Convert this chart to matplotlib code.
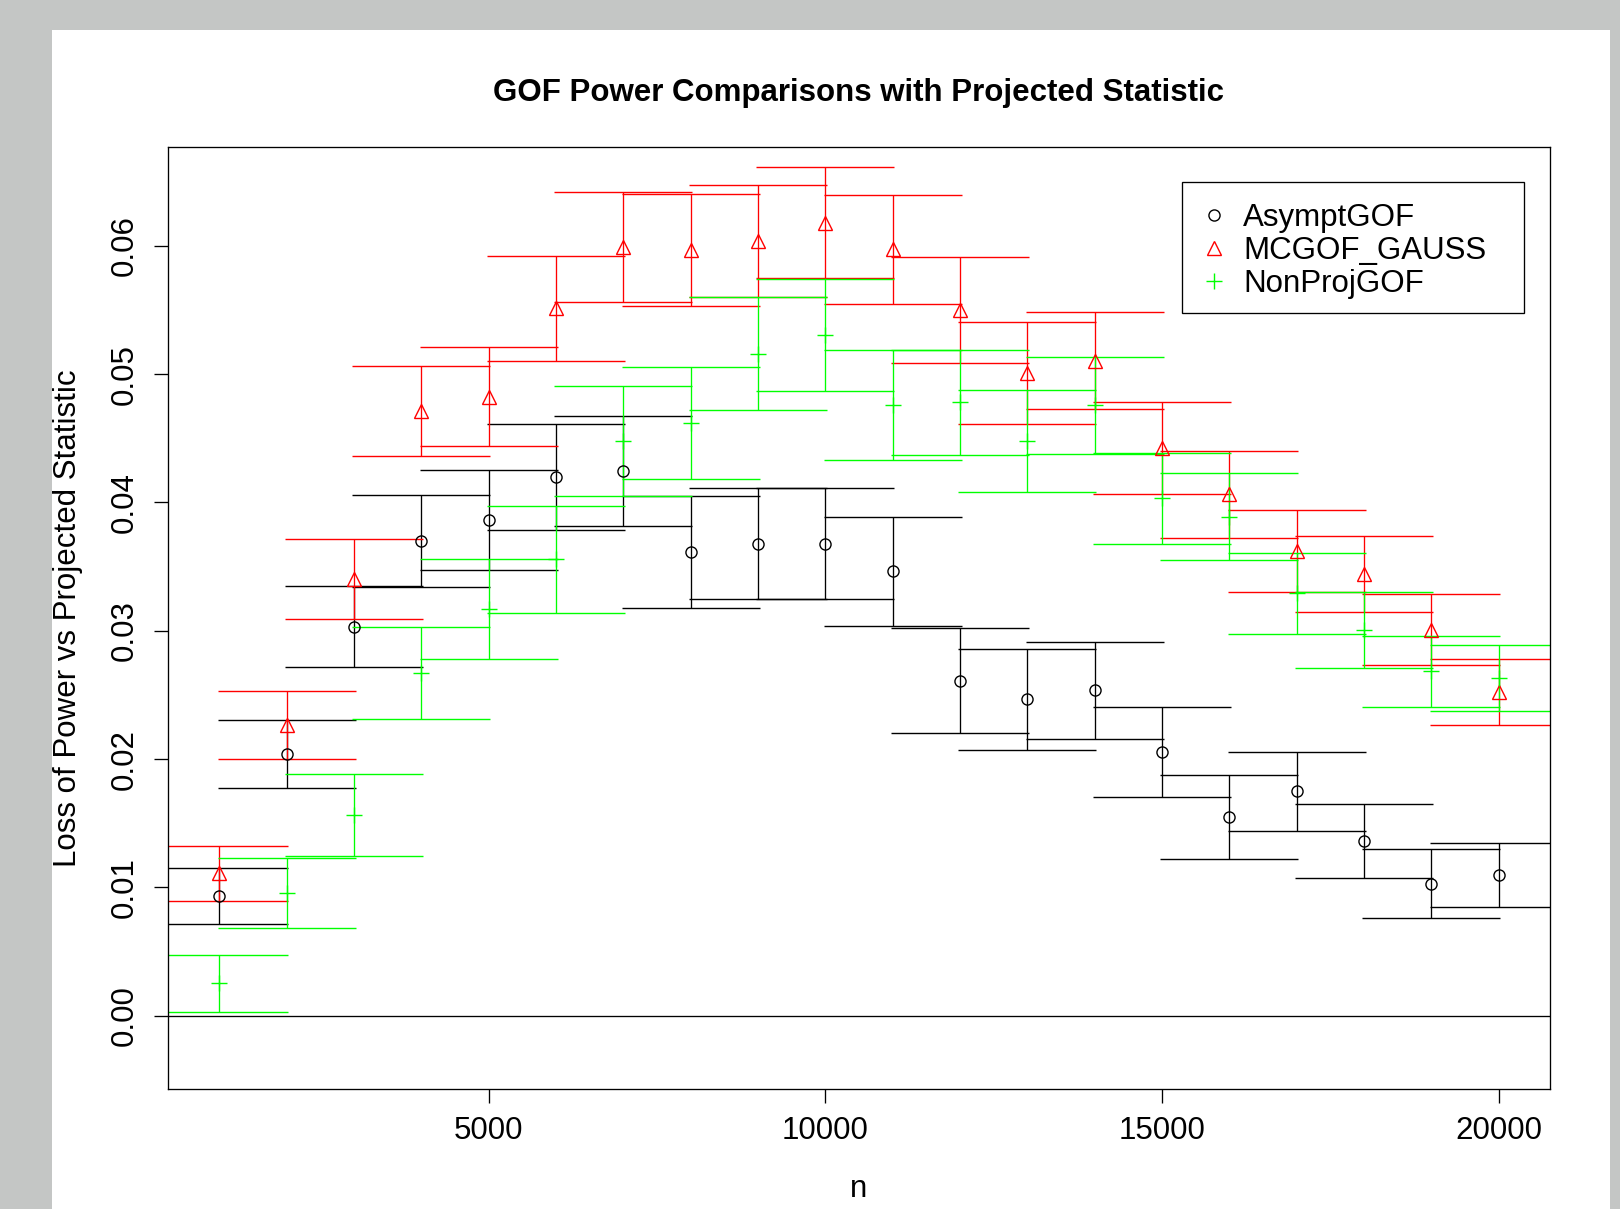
import matplotlib
matplotlib.use("Agg")
import matplotlib.pyplot as plt
from matplotlib.lines import Line2D
from matplotlib.patches import Rectangle

plt.rcParams['font.family'] = ['Liberation Sans', 'DejaVu Sans']

n = [1000, 2000, 3000, 4000, 5000, 6000, 7000, 8000, 9000, 10000,
     11000, 12000, 13000, 14000, 15000, 16000, 17000, 18000, 19000, 20000]

asympt = [0.00930, 0.02038, 0.03033, 0.03700, 0.03866, 0.04199, 0.04246, 0.03616, 0.03680, 0.03678,
          0.03463, 0.02610, 0.02465, 0.02535, 0.02058, 0.01548, 0.01750, 0.01364, 0.01030, 0.01094]
asympt_err = [0.00219, 0.00267, 0.00314, 0.00356, 0.00390, 0.00413, 0.00428, 0.00438, 0.00436, 0.00433,
              0.00423, 0.00408, 0.00392, 0.00375, 0.00351, 0.00329, 0.00309, 0.00288, 0.00267, 0.00250]

mcgof = [0.01110, 0.02267, 0.03403, 0.04714, 0.04825, 0.05512, 0.05992, 0.05970, 0.06037, 0.06182,
         0.05973, 0.05504, 0.05007, 0.05105, 0.04425, 0.04064, 0.03623, 0.03445, 0.03010, 0.02522]
mcgof_err = [0.00216, 0.00267, 0.00313, 0.00352, 0.00387, 0.00412, 0.00427, 0.00436, 0.00438, 0.00436,
             0.00425, 0.00413, 0.00397, 0.00379, 0.00359, 0.00338, 0.00319, 0.00296, 0.00277, 0.00256]

nonproj = [0.00251, 0.00954, 0.01564, 0.02672, 0.03170, 0.03557, 0.04479, 0.04620, 0.05160, 0.05306,
           0.04760, 0.04780, 0.04480, 0.04758, 0.04032, 0.03888, 0.03291, 0.03006, 0.02685, 0.02632]
nonproj_err = [0.00222, 0.00273, 0.00320, 0.00359, 0.00390, 0.00416, 0.00428, 0.00437, 0.00439, 0.00436,
               0.00427, 0.00411, 0.00398, 0.00378, 0.00356, 0.00340, 0.00318, 0.00296, 0.00277, 0.00255]

labels = ['AsymptGOF', 'MCGOF_GAUSS', 'NonProjGOF']
yticks = [0.00, 0.01, 0.02, 0.03, 0.04, 0.05, 0.06]
xticks = [5000, 10000, 15000, 20000]

FS = 22.5
W, H = 1620, 1209

fig = plt.figure(figsize=(16.2, 12.09), dpi=100, facecolor='#c4c6c5')
# white page area
fig.patches.append(Rectangle((52 / W, 0), (1610 - 52) / W, (H - 30) / H,
                             transform=fig.transFigure, facecolor='white',
                             edgecolor='none', zorder=-10))

ax = fig.add_axes([168 / W, 1 - 1089.3 / H, (1549.7 - 168) / W, (1089.3 - 146.7) / H])
ax.set_facecolor('white')

series = [
    (asympt, asympt_err, 'black', 'o', 8, 'none'),
    (mcgof, mcgof_err, '#ff0000', '^', 10, 'none'),
    (nonproj, nonproj_err, '#00ff00', '+', 11.5, None),
]
handles = []
for (vals, err, col, mk, ms, mfc), lab in zip(series, labels):
    kw = dict(mfc=mfc) if mfc else {}
    ax.errorbar(n, vals, yerr=err, fmt=mk, color=col, ms=ms, mew=1.0,
                elinewidth=0.95, capsize=49.7, capthick=0.95, **kw)
    handles.append(Line2D([], [], linestyle='none', marker=mk, color=col,
                          ms=ms, mew=1.0, **kw))

ax.axhline(0, color='black', lw=0.95)

ax.set_xlim(240, 20760)
ax.set_ylim(-0.005737, 0.06773)
ax.set_xticks(xticks)
ax.set_xticklabels([str(v) for v in xticks])
ax.set_yticks(yticks)
ax.set_yticklabels(['%.2f' % v for v in yticks])
ax.tick_params(axis='both', length=10, width=0.95, labelsize=FS, direction='out')
ax.tick_params(axis='x', pad=9.2)
ax.tick_params(axis='y', pad=10)
plt.setp(ax.get_yticklabels(), rotation=90, va='center')
for s in ax.spines.values():
    s.set_linewidth(0.95)

ax.set_title('GOF Power Comparisons with Projected Statistic', fontsize=FS,
             fontweight='bold', pad=33)
ax.set_xlabel('n', fontsize=FS, va='baseline')
ax.xaxis.set_label_coords(0.5, (1089.3 - 1197) / (1089.3 - 146.7))
ax.set_ylabel('Loss of Power vs Projected Statistic', fontsize=FS, va='center')
ax.yaxis.set_label_coords((68 - 168) / (1549.7 - 168), 0.5)

# legend box
bx0 = (1182 - 168) / (1549.7 - 168)
bx1 = (1524 - 168) / (1549.7 - 168)
by1 = (1089.3 - 181.7) / (1089.3 - 146.7)
by0 = (1089.3 - 313.3) / (1089.3 - 146.7)
ax.add_patch(Rectangle((bx0, by0), bx1 - bx0, by1 - by0, transform=ax.transAxes,
                       facecolor='white', edgecolor='black', lw=0.95, zorder=5))
leg = ax.legend(handles, labels, loc='upper left', bbox_to_anchor=(bx0, by1),
                frameon=False, fontsize=FS, borderaxespad=0, borderpad=0.67,
                handlelength=0.7, handletextpad=0.58, labelspacing=0.1)
leg.set_zorder(6)

fig.savefig('out.png', dpi=100, facecolor=fig.get_facecolor())
